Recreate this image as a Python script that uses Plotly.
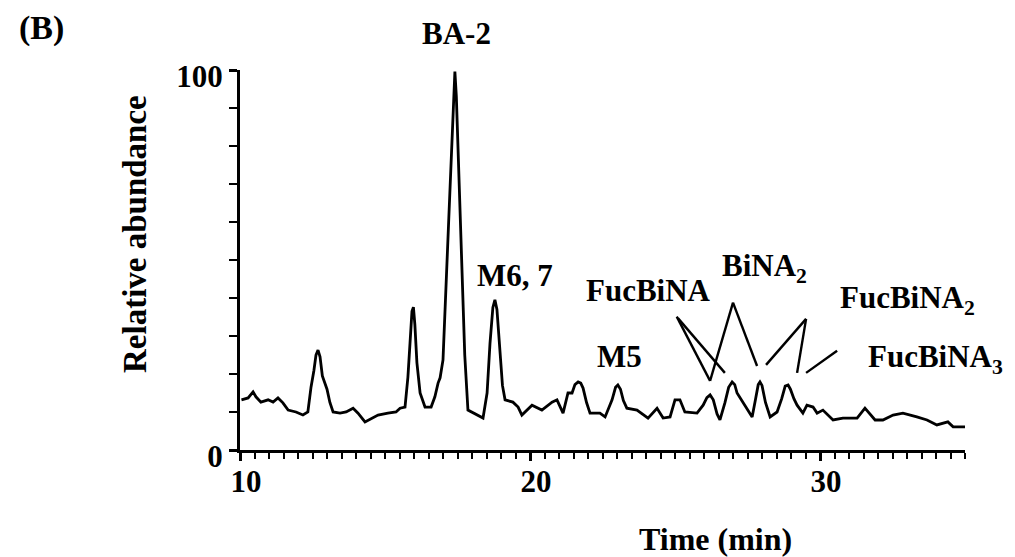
import plotly.graph_objects as go

# Chromatogram trace (time in min, relative abundance in %)
time_min = [10.05, 10.28, 10.45, 10.55, 10.72, 10.97, 11.14, 11.31, 11.48, 11.66, 11.93, 12.17, 12.34,
            12.45, 12.55, 12.62, 12.69, 12.76, 12.84, 12.92, 13.0, 13.1, 13.21, 13.45, 13.66, 13.9,
            14.07, 14.31, 14.52, 14.76, 15.1, 15.38, 15.52, 15.69, 15.79, 15.87, 15.93, 15.98, 16.03,
            16.1, 16.21, 16.38, 16.59, 16.72, 16.83, 16.9, 17.0, 17.2, 17.35, 17.41, 17.46, 17.6,
            17.75, 17.86, 18.17, 18.38, 18.52, 18.62, 18.72, 18.79, 18.86, 18.95, 19.05, 19.14, 19.41,
            19.59, 19.72, 20.07, 20.41, 20.76, 20.93, 21.14, 21.31, 21.45, 21.55, 21.66, 21.75, 21.83,
            21.95, 22.07, 22.41, 22.59, 22.83, 22.95, 23.03, 23.12, 23.22, 23.34, 23.69, 24.07, 24.38,
            24.59, 24.83, 25.0, 25.17, 25.34, 25.76, 25.97, 26.1, 26.21, 26.32, 26.45, 26.55, 26.72,
            26.85, 26.97, 27.06, 27.14, 27.41, 27.66, 27.78, 27.87, 27.93, 28.0, 28.12, 28.28, 28.52,
            28.68, 28.8, 28.9, 28.98, 29.1, 29.21, 29.41, 29.55, 29.76, 29.9, 30.1, 30.45, 30.79,
            31.28, 31.55, 31.9, 32.17, 32.52, 32.86, 33.34, 33.69, 34.03, 34.41, 34.59, 35.0]
abundance = [13.2, 13.7, 15.3, 14.0, 12.6, 13.2, 12.6, 13.7, 12.4, 10.5, 10.0, 9.2, 10.0,
             16.6, 21.0, 25.0, 26.3, 24.5, 19.5, 17.5, 16.0, 12.5, 10.0, 9.7, 10.0, 11.0,
             9.7, 7.4, 8.2, 9.2, 9.7, 10.0, 11.0, 11.3, 19.2, 30.0, 36.5, 37.6, 33.0,
             23.0, 15.0, 11.3, 11.3, 14.0, 17.6, 19.0, 23.7, 61.0, 92.0, 99.6, 93.0, 58.0,
             25.0, 10.5, 9.2, 8.4, 15.0, 28.0, 37.5, 39.5, 37.0, 28.0, 17.0, 13.2, 12.6,
             11.3, 9.2, 11.8, 10.5, 12.6, 13.2, 9.7, 15.0, 15.0, 17.2, 17.9, 17.6, 16.3,
             12.5, 9.7, 9.7, 8.7, 13.2, 16.5, 17.1, 16.0, 13.0, 11.0, 10.5, 8.4, 11.0,
             8.4, 8.7, 13.2, 13.2, 10.0, 9.7, 11.8, 13.8, 14.5, 13.2, 9.5, 7.9, 12.4,
             16.5, 17.9, 17.2, 15.0, 11.8, 8.7, 13.5, 17.2, 17.9, 17.0, 12.5, 8.7, 10.0,
             13.5, 16.8, 17.1, 16.0, 13.5, 11.8, 9.7, 11.8, 11.3, 9.7, 10.5, 7.9, 8.4,
             8.4, 11.0, 7.9, 7.9, 9.2, 9.7, 8.7, 7.9, 6.6, 7.4, 6.1, 6.1]

# Peak labels inside the plot: text, time position, abundance position
label_text = ["M6, 7", "M5", "FucBiNA", "BiNA<sub>2</sub>", "FucBiNA<sub>2</sub>", "FucBiNA<sub>3</sub>"]
label_x = [19.48, 23.07, 24.07, 28.1, 33.0, 33.97]
label_y = [45.8, 24.7, 42.1, 48.0, 39.5, 24.0]

# Label of the main peak (above the plot area), in data units
main_peak_label = "BA-2"
main_peak_x = 17.48
main_peak_y = 109.5

# Leader lines: (x0, y0, x1, y1)
leader_x0 = [25.06, 25.10, 27.00, 27.00, 29.52, 29.52, 30.59]
leader_y0 = [35.1, 34.7, 38.8, 38.8, 34.5, 34.5, 26.1]
leader_x1 = [26.21, 26.72, 26.21, 27.83, 28.14, 29.21, 29.52]
leader_y1 = [18.2, 20.3, 18.2, 22.1, 22.4, 20.3, 20.3]

x_range = [10, 35]
y_range = [0, 100]
x_ticks = [10, 20, 30]
y_ticks = [0, 100]

FONT = "Liberation Serif"

fig = go.Figure()
fig.add_trace(go.Scatter(x=time_min, y=abundance, mode="lines",
                         line=dict(color="black", width=2.8), cliponaxis=False,
                         hoverinfo="skip", showlegend=False))

for x0, y0, x1, y1 in zip(leader_x0, leader_y0, leader_x1, leader_y1):
    fig.add_shape(type="line", x0=x0, y0=y0, x1=x1, y1=y1, xref="x", yref="y",
                  line=dict(color="black", width=2.4))

for t, x, y in zip(label_text, label_x, label_y):
    fig.add_annotation(text=t, x=x, y=y, xref="x", yref="y", showarrow=False,
                       xanchor="center", yanchor="middle",
                       font=dict(family=FONT, size=31, color="black", weight="bold"))

# BA-2 sits above the axis range, so place it in paper units derived from the data position
fig.add_annotation(text=main_peak_label,
                   x=(main_peak_x - x_range[0]) / (x_range[1] - x_range[0]),
                   y=(main_peak_y - y_range[0]) / (y_range[1] - y_range[0]),
                   xref="paper", yref="paper", showarrow=False, xanchor="center", yanchor="middle",
                   font=dict(family=FONT, size=31, color="black", weight="bold"))

fig.add_annotation(text="(B)", x=(41 - 240) / 725, y=(450 - 28) / 380, xref="paper", yref="paper",
                   showarrow=False, xanchor="center", yanchor="middle",
                   font=dict(family=FONT, size=34, color="black", weight="bold"))
fig.add_annotation(text="Time (min)", x=(715 - 240) / 725, y=(450 - 539) / 380, xref="paper", yref="paper",
                   showarrow=False, xanchor="center", yanchor="middle",
                   font=dict(family=FONT, size=32, color="black", weight="bold"))
fig.add_annotation(text="Relative abundance", x=(135 - 240) / 725, y=(450 - 234) / 380, xref="paper", yref="paper",
                   showarrow=False, xanchor="center", yanchor="middle", textangle=-90,
                   font=dict(family=FONT, size=33, color="black", weight="bold"))

# The page body adds an 8px margin, so the figure is sized/offset to land on the same pixels
fig.update_layout(
    width=1007, height=549,
    margin=dict(l=232, r=50, t=62, b=107),
    paper_bgcolor="white", plot_bgcolor="white",
    xaxis=dict(range=x_range, tickvals=x_ticks, ticks="outside", ticklen=8, tickwidth=2.5,
               tickcolor="black", showline=True, linecolor="black", linewidth=3,
               showgrid=False, zeroline=False, ticklabelstandoff=-6, ticklabelshift=6,
               tickfont=dict(family=FONT, size=31, color="black", weight="bold"),
               minor=dict(dtick=0.5, ticks="outside", ticklen=6, tickwidth=2, tickcolor="black", showgrid=False)),
    yaxis=dict(range=y_range, tickvals=y_ticks, ticks="outside", ticklen=8, tickwidth=2.5,
               tickcolor="black", showline=True, linecolor="black", linewidth=3,
               showgrid=False, zeroline=False, ticklabelstandoff=0, ticklabelshift=6,
               tickfont=dict(family=FONT, size=31, color="black", weight="bold"),
               minor=dict(dtick=10, ticks="outside", ticklen=8, tickwidth=2, tickcolor="black", showgrid=False)),
)

fig.write_html("out.html")
